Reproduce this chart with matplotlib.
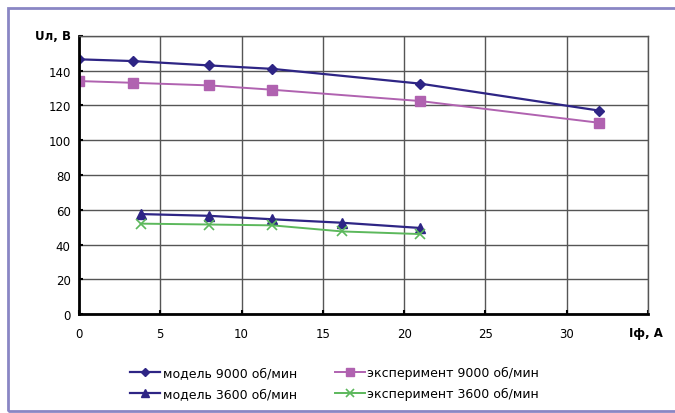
import matplotlib.pyplot as plt
from matplotlib.patches import Rectangle

# data
x_9000 = [0, 3.3, 8.0, 11.9, 21.0, 32.0]
model_9000 = [146.5, 145.5, 143, 141, 132.5, 117]
exp_9000 = [134, 133, 131.5, 129, 122.5, 110]

x_3600 = [3.8, 8.0, 11.9, 16.2, 21.0]
model_3600 = [57.5, 56.5, 54.5, 52.5, 49.5]
exp_3600 = [52, 51.5, 51, 47.5, 46]

x_ticks = [0, 5, 10, 15, 20, 25, 30]
y_ticks = [0, 20, 40, 60, 80, 100, 120, 140]

labels = ['модель 9000 об/мин', 'эксперимент 9000 об/мин',
          'модель 3600 об/мин', 'эксперимент 3600 об/мин']

navy = '#2e2585'
violet = '#b062b0'
green = '#5cb85c'

fig = plt.figure(figsize=(6.75, 4.14), dpi=100)
ax = fig.add_axes([0.117, 0.239, 0.843, 0.672])

l1, = ax.plot(x_9000, model_9000, color=navy, lw=1.6, marker='D', ms=5)
l2, = ax.plot(x_9000, exp_9000, color=violet, lw=1.4, marker='s', ms=7)
l3, = ax.plot(x_3600, model_3600, color=navy, lw=1.6, marker='^', ms=7)
l4, = ax.plot(x_3600, exp_3600, color=green, lw=1.4, marker='x', ms=7, mew=1.2)

ax.set_xlim(0, 35)
ax.set_ylim(0, 160)
ax.set_xticks(x_ticks + [35])
ax.set_xticklabels([str(v) for v in x_ticks] + [''])
ax.set_yticks(y_ticks + [160])
ax.set_yticklabels([str(v) for v in y_ticks] + [''])
ax.grid(True, color='#555555', lw=1.0)
ax.set_axisbelow(True)
for s in ['top', 'right']:
    ax.spines[s].set_color('#555555')
    ax.spines[s].set_linewidth(1.0)
for s in ['left', 'bottom']:
    ax.spines[s].set_color('black')
    ax.spines[s].set_linewidth(2)
ax.tick_params(direction='in', length=3, width=1.5, labelsize=8.5,
               colors='black', pad=9)
ax.tick_params(axis='y', pad=6)

ax.text(-0.5, 160, 'Uл, В', ha='right', va='center', fontsize=8.5,
        fontweight='bold', clip_on=False)
ax.text(34.9, -7, 'Iф, А', ha='center', va='top', fontsize=8.5,
        fontweight='bold', clip_on=False)

# legend fills column-wise, so order handles to get rows 9000 / 3600
fig.legend([l1, l3, l2, l4], [labels[0], labels[2], labels[1], labels[3]],
           loc='upper left', ncol=2, bbox_to_anchor=(0.193, 0.114),
           frameon=False, fontsize=9, columnspacing=3.0, handlelength=2.4,
           handletextpad=0.2, labelspacing=0.65, markerscale=0.75,
           borderaxespad=0, borderpad=0)

# outer frame (right side runs off the picture)
fig.patches.append(Rectangle((8 / 675, 0.006), 1.05, 0.972,
                             transform=fig.transFigure, fill=False,
                             edgecolor='#8a86c4', lw=2))

fig.savefig('out.png', dpi=100)
